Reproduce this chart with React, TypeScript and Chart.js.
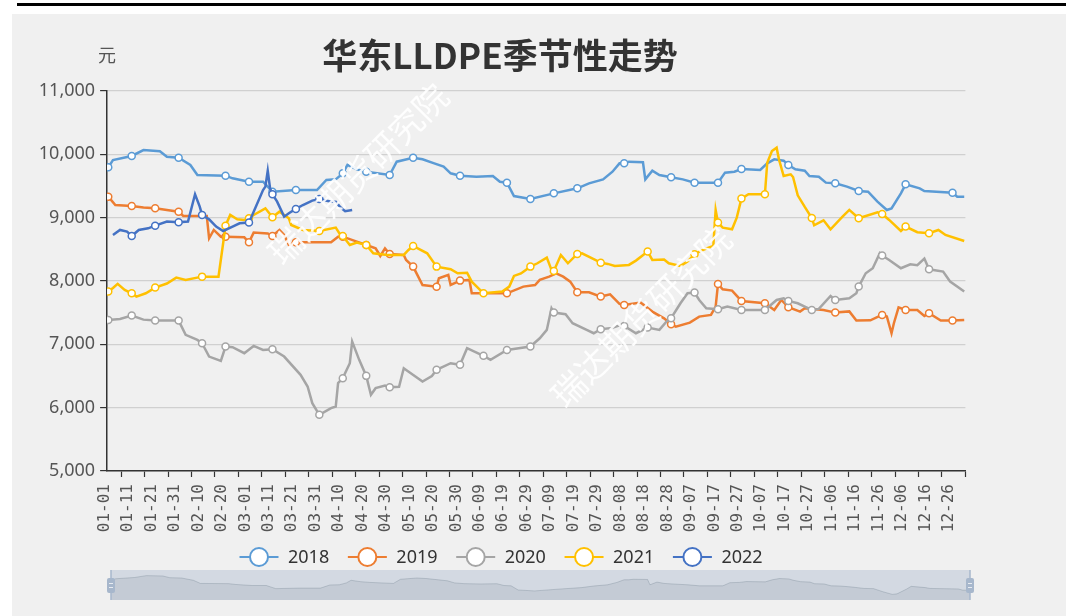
import React, { useEffect, useRef } from "react";
import { Chart, registerables } from "chart.js";

Chart.register(...registerables);

const TITLE = "华东LLDPE季节性走势";
const UNIT = "元";
const WATERMARK = "瑞达期货研究院";

const SERIES_NAMES = ["2018", "2019", "2020", "2021", "2022"];
const SERIES_COLORS = ["#5b9bd5", "#ed7d31", "#a5a5a5", "#ffc000", "#4472c4"];

const X_TICK_LABELS = [
  "01-01", "01-11", "01-21", "01-31", "02-10", "02-20", "03-01", "03-11", "03-21", "03-31",
  "04-10", "04-20", "04-30", "05-10", "05-20", "05-30", "06-09", "06-19", "06-29", "07-09",
  "07-19", "07-29", "08-08", "08-18", "08-28", "09-07", "09-17", "09-27", "10-07", "10-17",
  "10-27", "11-06", "11-16", "11-26", "12-06", "12-16", "12-26",
];

const Y_MIN = 5000;
const Y_MAX = 11000;
const Y_STEP = 1000;

// [day of year (0 = 01-01, leap-year calendar of 366 days), price in 元]
const data2018: [number, number][] = [
  [0, 9795], [2, 9910], [10, 9974], [15, 10068], [22, 10050], [25, 9963], [30, 9947], [35, 9832],
  [38, 9674], [50, 9663], [53, 9621], [60, 9568], [66, 9568], [70, 9411], [80, 9437], [89, 9437],
  [93, 9595], [97, 9605], [100, 9700], [102, 9832], [106, 9763], [110, 9726], [120, 9674], [123, 9884],
  [126, 9911], [130, 9947], [134, 9921], [139, 9858], [143, 9805], [146, 9700], [150, 9663], [157, 9647],
  [164, 9658], [167, 9568], [170, 9553], [173, 9342], [180, 9295], [190, 9384], [200, 9463], [205, 9542],
  [211, 9605], [215, 9726], [218, 9858], [220, 9858], [222, 9884], [228, 9874], [229, 9605], [232, 9742],
  [235, 9674], [240, 9637], [245, 9605], [250, 9553], [260, 9553], [263, 9711], [267, 9726], [270, 9768],
  [278, 9753], [281, 9858], [284, 9921], [288, 9900], [290, 9832], [293, 9763], [297, 9742], [299, 9658],
  [303, 9647], [306, 9553], [310, 9542], [315, 9490], [320, 9421], [324, 9411], [328, 9253], [332, 9121],
  [334, 9147], [338, 9384], [340, 9526], [346, 9463], [348, 9421], [360, 9395], [362, 9332], [365, 9332],
];

const data2019: [number, number][] = [
  [0, 9332], [3, 9200], [10, 9185], [15, 9160], [20, 9148], [25, 9120], [30, 9095], [32, 9027],
  [42, 9027], [43, 8674], [45, 8806], [48, 8700], [50, 8700], [58, 8690], [60, 8611], [62, 8764],
  [68, 8750], [70, 8711], [73, 8806], [75, 8727], [77, 8569], [80, 8611], [95, 8611], [98, 8700],
  [100, 8700], [106, 8622], [110, 8569], [114, 8516], [116, 8395], [118, 8516], [120, 8427], [126, 8411],
  [127, 8332], [130, 8227], [134, 7937], [140, 7911], [141, 8043], [145, 8096], [146, 7937], [150, 8006],
  [154, 8017], [155, 7806], [170, 7806], [177, 7911], [182, 7937], [184, 8017], [188, 8069], [191, 8122],
  [194, 8069], [197, 7990], [200, 7822], [205, 7822], [210, 7754], [214, 7790], [218, 7640], [220, 7622],
  [227, 7659], [232, 7517], [237, 7411], [240, 7317], [242, 7280], [248, 7343], [252, 7438], [257, 7465],
  [259, 7596], [260, 7954], [262, 7870], [266, 7848], [270, 7685], [280, 7648], [284, 7543], [287, 7701],
  [290, 7585], [295, 7517], [297, 7570], [305, 7543], [310, 7501], [316, 7520], [319, 7375], [325, 7380],
  [329, 7448], [330, 7465], [332, 7440], [334, 7175], [335, 7333], [337, 7585], [340, 7543], [345, 7543],
  [348, 7448], [350, 7490], [355, 7375], [360, 7375], [365, 7385],
];

const data2020: [number, number][] = [
  [0, 7386], [5, 7400], [10, 7454], [15, 7390], [20, 7375], [30, 7375], [33, 7149], [38, 7070],
  [40, 7017], [43, 6807], [48, 6739], [50, 6965], [53, 6955], [58, 6860], [62, 6975], [66, 6912],
  [70, 6923], [75, 6807], [82, 6518], [85, 6334], [87, 6071], [90, 5887], [95, 5992], [97, 6018],
  [98, 6387], [100, 6466], [103, 6702], [104, 7044], [107, 6755], [110, 6502], [112, 6203], [114, 6308],
  [118, 6350], [120, 6323], [124, 6330], [126, 6623], [129, 6544], [134, 6413], [138, 6500], [140, 6597],
  [146, 6702], [150, 6676], [153, 6939], [160, 6818], [163, 6755], [170, 6912], [180, 6965], [184, 7096],
  [187, 7228], [189, 7570], [190, 7501], [195, 7475], [198, 7333], [204, 7228], [207, 7175], [210, 7238],
  [215, 7260], [218, 7300], [220, 7291], [225, 7175], [230, 7264], [235, 7228], [238, 7359], [240, 7412],
  [244, 7649], [247, 7806], [250, 7817], [252, 7701], [255, 7570], [260, 7554], [264, 7596], [270, 7543],
  [280, 7543], [285, 7701], [288, 7728], [290, 7685], [294, 7648], [297, 7596], [300, 7543], [303, 7560],
  [308, 7764], [310, 7701], [316, 7728], [319, 7806], [320, 7912], [323, 8122], [326, 8201], [329, 8438],
  [330, 8401], [333, 8332], [338, 8201], [342, 8264], [345, 8250], [348, 8354], [350, 8185], [356, 8148],
  [358, 8043], [359, 7990], [365, 7833],
];

const data2021: [number, number][] = [
  [0, 7833], [2, 7890], [4, 7954], [7, 7859], [10, 7806], [12, 7754], [16, 7806], [20, 7896],
  [25, 7960], [29, 8054], [33, 8017], [40, 8069], [47, 8069], [49, 8600], [50, 8874], [52, 9043],
  [55, 8974], [58, 8964], [60, 8990], [62, 9043], [67, 9148], [70, 9006], [73, 9095], [77, 8990],
  [78, 8885], [83, 8806], [90, 8790], [97, 8843], [99, 8727], [100, 8711], [103, 8569], [106, 8606],
  [110, 8569], [113, 8437], [119, 8411], [126, 8411], [128, 8490], [130, 8553], [136, 8437], [140, 8227],
  [146, 8185], [149, 8122], [153, 8130], [155, 7990], [160, 7806], [168, 7833], [171, 7912], [173, 8080],
  [176, 8120], [180, 8227], [183, 8280], [187, 8369], [189, 8175], [190, 8159], [193, 8411], [196, 8280],
  [200, 8427], [202, 8437], [210, 8290], [213, 8270], [216, 8238], [222, 8254], [225, 8322], [230, 8464],
  [232, 8332], [237, 8340], [239, 8280], [244, 8238], [247, 8306], [250, 8422], [252, 8464], [256, 8527],
  [258, 8553], [259, 9122], [260, 8922], [262, 8843], [266, 8817], [268, 9001], [270, 9301], [273, 9369],
  [280, 9369], [281, 9868], [283, 10052], [285, 10105], [286, 9921], [288, 9658], [291, 9684], [292, 9642],
  [294, 9353], [297, 9169], [300, 8995], [301, 8880], [305, 8958], [308, 8817], [313, 9011], [316, 9122],
  [320, 8990], [328, 9085], [330, 9059], [333, 8964], [338, 8790], [340, 8859], [345, 8770], [350, 8754],
  [354, 8806], [357, 8727], [365, 8632],
];

const data2022: [number, number][] = [
  [2, 8727], [5, 8806], [8, 8780], [10, 8711], [13, 8806], [17, 8832], [20, 8874], [25, 8938],
  [30, 8927], [34, 8938], [37, 9369], [39, 9174], [40, 9043], [43, 8974], [46, 8859], [49, 8790],
  [53, 8859], [56, 8911], [60, 8922], [62, 9095], [66, 9437], [67, 9490], [68, 9742], [69, 9463],
  [70, 9369], [72, 9253], [75, 9016], [77, 9069], [80, 9138], [83, 9200], [87, 9269], [90, 9295],
  [95, 9253], [97, 9253], [99, 9164], [101, 9101], [104, 9122],
];

const SERIES_DATA = [data2018, data2019, data2020, data2021, data2022];

const decorPlugin = {
  id: "decor",
  beforeDraw(chart: any) {
    const ctx = chart.ctx;
    const W = chart.width;
    const H = chart.height;
    ctx.save();
    ctx.fillStyle = "#ffffff";
    ctx.fillRect(0, 0, W, H);
    ctx.fillStyle = "#f0f0f0";
    ctx.fillRect(12, 14, W - 12, H - 14);
    ctx.fillStyle = "#000000";
    ctx.fillRect(17, 3, W - 17, 3);
    ctx.fillStyle = "#333333";
    ctx.font = "bold 35px 'Noto Sans CJK SC', sans-serif";
    ctx.textAlign = "center";
    ctx.textBaseline = "middle";
    ctx.fillText(TITLE, 500, 56);
    ctx.fillStyle = "#555555";
    ctx.font = "18px 'Noto Sans CJK SC', sans-serif";
    ctx.fillText(UNIT, 107, 55);
    ctx.restore();
  },
  afterDatasetsDraw(chart: any) {
    const ctx = chart.ctx;
    ctx.save();
    ctx.fillStyle = "rgba(255,255,255,0.9)";
    ctx.font = "34px 'Noto Sans CJK SC', sans-serif";
    ctx.textAlign = "center";
    ctx.textBaseline = "middle";
    const spots = [
      [358, 174],
      [641, 317],
    ];
    for (const [cx, cy] of spots) {
      ctx.save();
      ctx.translate(cx, cy);
      ctx.rotate((-45 * Math.PI) / 180);
      ctx.fillText(WATERMARK, 0, 0);
      ctx.restore();
    }
    ctx.restore();
  },
  afterDraw(chart: any) {
    const ctx = chart.ctx;
    ctx.save();
    // legend
    SERIES_NAMES.forEach((name, i) => {
      const cx = 259 + 108.35 * i;
      const cy = 557;
      ctx.strokeStyle = SERIES_COLORS[i];
      ctx.lineWidth = 2;
      ctx.beginPath();
      ctx.moveTo(cx - 19.5, cy);
      ctx.lineTo(cx + 19.5, cy);
      ctx.stroke();
      ctx.beginPath();
      ctx.arc(cx, cy, 9, 0, Math.PI * 2);
      ctx.fillStyle = "#ffffff";
      ctx.fill();
      ctx.stroke();
      ctx.fillStyle = "#333333";
      ctx.font = "18px 'Noto Sans', sans-serif";
      ctx.textAlign = "left";
      ctx.textBaseline = "middle";
      ctx.fillText(name, cx + 29, cy + 1);
    });
    // data zoom slider
    const sx0 = 111;
    const sx1 = 970;
    const sy0 = 570;
    const sy1 = 600;
    ctx.fillStyle = "rgba(167,183,204,0.4)";
    ctx.fillRect(sx0, sy0, sx1 - sx0, sy1 - sy0);
    const vals = data2018.map((p) => p[1]);
    const vmin = Math.min(...vals);
    const vmax = Math.max(...vals);
    const off = (vmax - vmin) * 0.3;
    const lo = vmin - off;
    const hi = vmax + off;
    const px = (d: number) => sx0 + ((sx1 - sx0) * d) / 365;
    const py = (v: number) => sy0 + ((sy1 - sy0) * (hi - v)) / (hi - lo);
    ctx.beginPath();
    ctx.moveTo(px(data2018[0][0]), sy1);
    data2018.forEach((p) => ctx.lineTo(px(p[0]), py(p[1])));
    ctx.lineTo(px(data2018[data2018.length - 1][0]), sy1);
    ctx.closePath();
    ctx.fillStyle = "rgba(47,69,84,0.09)";
    ctx.fill();
    ctx.beginPath();
    data2018.forEach((p, i) => (i === 0 ? ctx.moveTo(px(p[0]), py(p[1])) : ctx.lineTo(px(p[0]), py(p[1]))));
    ctx.strokeStyle = "rgba(47,69,84,0.18)";
    ctx.lineWidth = 1;
    ctx.stroke();
    for (const hx of [sx0, sx1]) {
      ctx.strokeStyle = "#a7b7cc";
      ctx.lineWidth = 1.5;
      ctx.beginPath();
      ctx.moveTo(hx, sy0);
      ctx.lineTo(hx, sy1);
      ctx.stroke();
      ctx.fillStyle = "#a7b7cc";
      ctx.beginPath();
      (ctx as any).roundRect ? (ctx as any).roundRect(hx - 4, 578, 8, 15, 2) : ctx.rect(hx - 4, 578, 8, 15);
      ctx.fill();
      ctx.strokeStyle = "#e8ecf2";
      ctx.lineWidth = 1;
      ctx.beginPath();
      ctx.moveTo(hx - 2, 583.5);
      ctx.lineTo(hx + 2, 583.5);
      ctx.moveTo(hx - 2, 587.5);
      ctx.lineTo(hx + 2, 587.5);
      ctx.stroke();
    }
    ctx.restore();
  },
};

export default function App() {
  const canvasRef = useRef<HTMLCanvasElement | null>(null);

  useEffect(() => {
    if (!canvasRef.current) return;
    const datasets = SERIES_NAMES.map((name, i) => ({
      label: name,
      data: SERIES_DATA[i].map(([d, v]) => ({ x: d, y: v })),
      borderColor: SERIES_COLORS[i],
      backgroundColor: SERIES_COLORS[i],
      borderWidth: 2.5,
      tension: 0,
      fill: false,
      order: SERIES_NAMES.length - i,
      pointRadius: (c: any) => (c.raw && c.raw.x % 10 === 0 ? 3.5 : 0),
      pointBackgroundColor: "#ffffff",
      pointBorderColor: SERIES_COLORS[i],
      pointBorderWidth: 1.5,
      pointHoverRadius: 0,
    }));

    const chart = new Chart(canvasRef.current, {
      type: "line",
      data: { datasets },
      options: {
        responsive: false,
        animation: false,
        events: [],
        layout: { padding: { left: 0, right: 100.6, top: 91, bottom: 0 } },
        plugins: {
          legend: { display: false },
          title: { display: false },
          tooltip: { enabled: false },
        },
        scales: {
          x: {
            type: "linear",
            min: -0.5,
            max: 365.5,
            afterBuildTicks: (s: any) => {
              s.ticks = X_TICK_LABELS.map((_, k) => ({ value: 5.5 + 10 * k }));
            },
            afterFit: (s: any) => {
              s.height = 145;
            },
            grid: {
              drawOnChartArea: false,
              drawTicks: true,
              tickLength: 6,
              tickColor: "#333333",
              tickWidth: 1.2,
            },
            border: { display: true, color: "#333333", width: 1.5 },
            ticks: {
              autoSkip: false,
              minRotation: 90,
              maxRotation: 90,
              padding: 7,
              labelOffset: -16.5,
              color: "#555555",
              font: { family: "'DejaVu Sans Mono', monospace", size: 16 },
              callback: (_v: any, i: number) => X_TICK_LABELS[i],
            },
          },
          y: {
            min: Y_MIN,
            max: Y_MAX,
            afterFit: (s: any) => {
              s.width = 107.1;
            },
            grid: {
              color: "#d0d0d0",
              lineWidth: 1.2,
              tickColor: "#333333",
              tickLength: 7,
            },
            border: { display: true, color: "#333333", width: 1.5 },
            ticks: {
              stepSize: Y_STEP,
              padding: 5,
              color: "#555555",
              font: { family: "'Noto Sans', sans-serif", size: 18 },
              callback: (v: any) => Number(v).toLocaleString("en-US"),
            },
          },
        },
      } as any,
      plugins: [decorPlugin],
    });
    return () => chart.destroy();
  }, []);

  return (
    <div style={{ position: "absolute", left: 0, top: 0, width: 1066, height: 616 }}>
      <canvas ref={canvasRef} width={1066} height={616} style={{ display: "block" }} />
    </div>
  );
}
